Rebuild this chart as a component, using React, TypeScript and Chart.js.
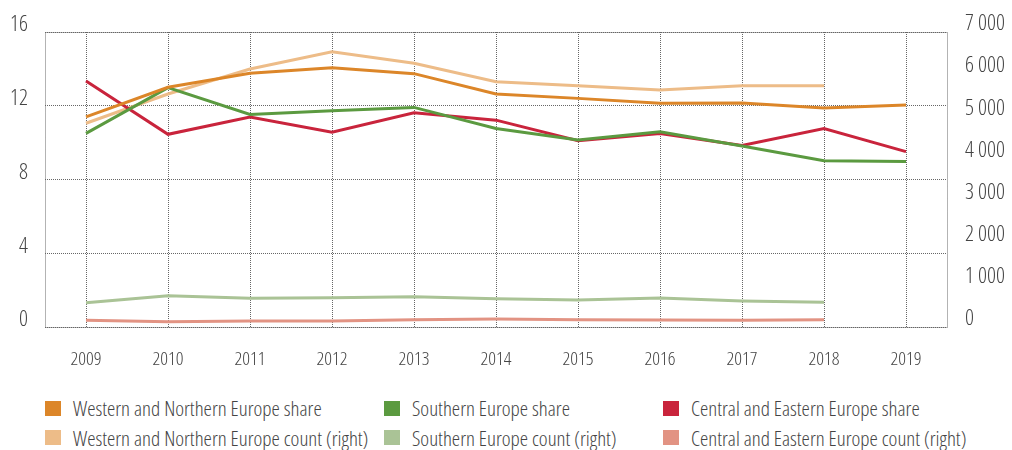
import React, { useEffect, useRef } from "react";
import { Chart, registerables } from "chart.js";

Chart.register(...registerables);

const years = ["2009", "2010", "2011", "2012", "2013", "2014", "2015", "2016", "2017", "2018", "2019"];

const westShare = [11.4, 13.0, 13.76, 14.06, 13.74, 12.64, 12.4, 12.13, 12.15, 11.88, 12.04];
const southShare = [10.5, 12.98, 11.53, 11.73, 11.91, 10.77, 10.14, 10.59, 9.82, 9.02, 8.97];
const centralShare = [13.34, 10.45, 11.39, 10.56, 11.62, 11.22, 10.1, 10.5, 9.85, 10.76, 9.51];

const westCount = [4834, 5529, 6122, 6533, 6257, 5821, 5726, 5624, 5726, 5726, null];
const southCount = [577, 743, 680, 696, 720, 672, 641, 688, 617, 585, null];
const centralCount = [158, 127, 142, 142, 174, 190, 174, 166, 158, 174, null];

const leftTicks = [0, 4, 8, 12, 16];
const rightTicks = [0, 1000, 2000, 3000, 4000, 5000, 6000, 7000];

const COLORS = {
  westShare: "#DC8629",
  southShare: "#5B9A40",
  centralShare: "#C9243C",
  westCount: "#EDBC88",
  southCount: "#AAC396",
  centralCount: "#E29383",
};

const FONT = "'Open Sans', 'Roboto Condensed', sans-serif";

const legendItems = [
  { label: "Western and Northern Europe share", color: COLORS.westShare, col: 0, row: 0 },
  { label: "Southern Europe share", color: COLORS.southShare, col: 1, row: 0 },
  { label: "Central and Eastern Europe share", color: COLORS.centralShare, col: 2, row: 0 },
  { label: "Western and Northern Europe count (right)", color: COLORS.westCount, col: 0, row: 1 },
  { label: "Southern Europe count (right)", color: COLORS.southCount, col: 1, row: 1 },
  { label: "Central and Eastern Europe count (right)", color: COLORS.centralCount, col: 2, row: 1 },
];

const colLeft = [45, 384, 663];
const rowCenter = [408, 437.5];

const fmtThousands = (v: number) => {
  const s = String(Math.round(v));
  return s.replace(/\B(?=(\d{3})+(?!\d))/g, " ");
};

const dottedFrame = {
  id: "dottedFrame",
  afterDraw(chart: any) {
    const { ctx, chartArea } = chart;
    ctx.save();
    ctx.strokeStyle = "#666";
    ctx.lineWidth = 1;
    ctx.setLineDash([1, 1]);
    const l = Math.round(chartArea.left) + 0.5;
    const r = Math.round(chartArea.right) + 0.5;
    const t = Math.round(chartArea.top) + 0.5;
    const b = Math.round(chartArea.bottom) + 0.5;
    ctx.strokeRect(l, t, r - l, b - t);
    ctx.restore();
  },
};

export default function App() {
  const ref = useRef<HTMLCanvasElement | null>(null);

  useEffect(() => {
    if (!ref.current) return;
    const mk = (label: string, data: (number | null)[], color: string, axis: string) => ({
      label,
      data,
      borderColor: color,
      backgroundColor: color,
      borderWidth: 3,
      pointRadius: 0,
      pointHoverRadius: 0,
      tension: 0,
      yAxisID: axis,
      spanGaps: false,
    });
    const chart = new Chart(ref.current, {
      type: "line",
      data: {
        labels: years,
        datasets: [
          mk("Western and Northern Europe share", westShare, COLORS.westShare, "y"),
          mk("Southern Europe share", southShare, COLORS.southShare, "y"),
          mk("Central and Eastern Europe share", centralShare, COLORS.centralShare, "y"),
          mk("Western and Northern Europe count (right)", westCount, COLORS.westCount, "y1"),
          mk("Southern Europe count (right)", southCount, COLORS.southCount, "y1"),
          mk("Central and Eastern Europe count (right)", centralCount, COLORS.centralCount, "y1"),
        ],
      },
      options: {
        animation: false,
        responsive: false,
        maintainAspectRatio: false,
        layout: { padding: { top: 32, left: 0, right: 0, bottom: 0 } },
        plugins: { legend: { display: false }, tooltip: { enabled: false } },
        scales: {
          x: {
            type: "category",
            offset: true,
            grid: { offset: false, color: "#666", lineWidth: 1, drawTicks: false },
            border: { display: false, dash: [1, 1] },
            ticks: {
              color: "#444",
              font: { family: FONT, size: 19, weight: "300 condensed" },
              padding: 21,
              maxRotation: 0,
            },
            afterFit(scale: any) {
              scale.height = 53;
            },
          },
          y: {
            type: "linear",
            position: "left",
            min: 0,
            max: 16,
            afterBuildTicks(scale: any) {
              scale.ticks = leftTicks.map((v) => ({ value: v }));
            },
            grid: { color: "#666", lineWidth: 1, drawTicks: false },
            border: { display: false, dash: [1, 1] },
            ticks: {
              color: "#444",
              font: { family: FONT, size: 22, weight: "300 condensed" },
              padding: 17,
              labelOffset: -7,
            },
            afterFit(scale: any) {
              scale.width = 45;
            },
          },
          y1: {
            type: "linear",
            position: "right",
            min: 0,
            max: 7000,
            afterBuildTicks(scale: any) {
              scale.ticks = rightTicks.map((v) => ({ value: v }));
            },
            grid: { display: false, drawTicks: false },
            border: { display: false },
            ticks: {
              color: "#444",
              font: { family: FONT, size: 22, weight: "300 condensed" },
              padding: 18,
              labelOffset: -8,
              callback: (v: any) => fmtThousands(Number(v)),
            },
            afterFit(scale: any) {
              scale.width = 65;
            },
          },
        },
      },
      plugins: [dottedFrame],
    } as any);
    return () => chart.destroy();
  }, []);

  return (
    <div style={{ position: "absolute", left: 0, top: 0, width: 1012, height: 450, background: "#fff" }}>
      <canvas ref={ref} width={1012} height={380} style={{ display: "block", width: 1012, height: 380 }} />
      {legendItems.map((it) => (
        <div
          key={it.label}
          style={{
            position: "absolute",
            left: colLeft[it.col],
            top: rowCenter[it.row] - 14,
            height: 28,
            display: "flex",
            alignItems: "center",
            fontFamily: FONT,
            fontStretch: "75%",
            fontWeight: 300,
            fontSize: 21,
            color: "#444",
            whiteSpace: "nowrap",
          }}
        >
          <span style={{ display: "inline-block", width: 16, height: 15, background: it.color, marginRight: 12, flex: "none" }} />
          <span>{it.label}</span>
        </div>
      ))}
    </div>
  );
}
